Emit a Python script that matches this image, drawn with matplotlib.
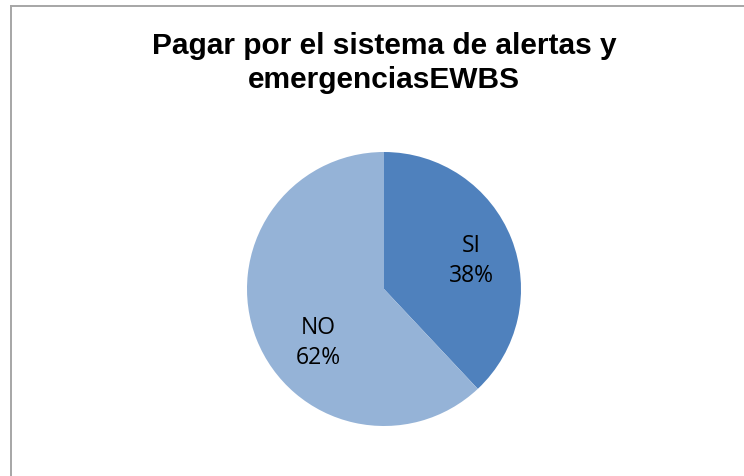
import matplotlib.pyplot as plt
from matplotlib.lines import Line2D

categories = ["SI", "NO"]
values = [38, 62]
colors = ["#4F81BD", "#95B3D7"]
title = "Pagar por el sistema de alertas y\nemergenciasEWBS"

fig = plt.figure(figsize=(7.44, 4.76), dpi=100)
W, H = 744, 476

# chart frame (only top and left edges fall inside the image)
fig.add_artist(Line2D([10.5 / W, 10.5 / W], [0, 1 - 5.5 / H], transform=fig.transFigure,
                      color="#A6A6A6", lw=1.4))
fig.add_artist(Line2D([10.5 / W, 1], [1 - 5.5 / H, 1 - 5.5 / H], transform=fig.transFigure,
                      color="#A6A6A6", lw=1.4))

fig.text(384 / W, 1 - 63 / H, title, ha="center", va="center", fontsize=21.5,
         fontweight="bold", family="Liberation Sans", linespacing=1.3)

ax = fig.add_axes([247 / W, 50 / H, 274 / W, 274 / H])
wedges, _ = ax.pie(values, colors=colors, startangle=90, counterclock=False,
                   wedgeprops=dict(linewidth=0))
ax.set_xlim(-1, 1)
ax.set_ylim(-1, 1)
ax.set_aspect("equal")

label_pos = [(0.635, 0.205), (-0.48, -0.395)]
for (x, y), cat, v in zip(label_pos, categories, values):
    ax.text(x, y, f"{cat}\n{v}%", ha="center", va="center", fontsize=16.5,
            family="Open Sans", linespacing=1.3, color="#000000")

fig.savefig("out.png", dpi=100)
